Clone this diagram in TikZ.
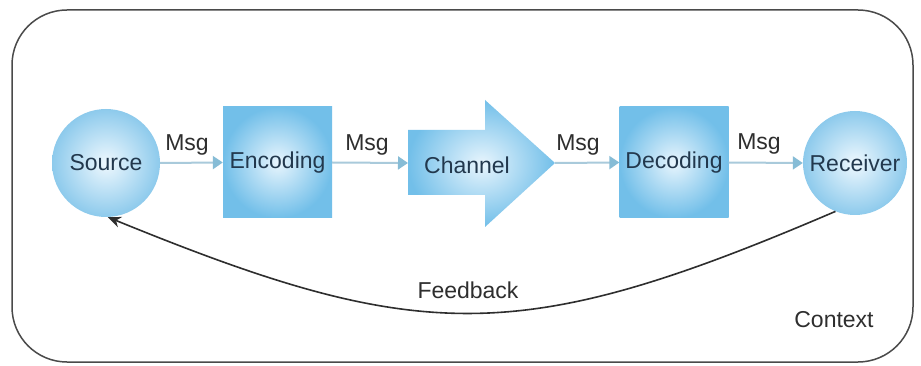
\documentclass[tikz,border=0pt]{standalone}
\usepackage{fontspec}
\setmainfont{Liberation Sans}
\usetikzlibrary{arrows.meta,shapes.geometric}
\definecolor{bluetxt}{HTML}{22384D}
\definecolor{greytxt}{HTML}{2E2E2E}
\definecolor{circin}{HTML}{EEF8FE}
\definecolor{circout}{HTML}{8DCAEC}
\definecolor{boxin}{HTML}{E8F5FD}
\definecolor{boxout}{HTML}{72BFE9}
\definecolor{msgline}{HTML}{A9CADB}
\definecolor{msgtip}{HTML}{86BCD6}
\definecolor{frame}{HTML}{4A4A4A}
\begin{document}
\begin{tikzpicture}[x=1pt,y=-1pt,
  every node/.style={font=\fontsize{23}{27}\selectfont},
  blob/.style={circle,minimum size=108pt,inner sep=0pt,inner color=circin,outer color=circout,text=bluetxt},
  sqbox/.style={rectangle,minimum width=109pt,minimum height=111pt,inner sep=0pt,inner color=boxin,outer color=boxout,text=bluetxt},
  msgarrow/.style={draw=msgline,line width=2pt,-{Triangle[length=10pt,width=13pt,color=msgtip,fill=msgtip]}},
  msglabel/.style={text=greytxt},
  plainlabel/.style={text=greytxt}]
\useasboundingbox (0,0) rectangle (921,366);
\fill[white] (0,0) rectangle (921,366);
% context frame
\draw[frame,line width=1.5pt,rounded corners=55pt] (12,10) rectangle (913,362);
% nodes
\node[blob] (source) at (106,163) {Source};
\node[sqbox] (enc) at (277.5,162.5) {Encoding};
\shade[inner color=boxin,outer color=boxout]
  (408,130) -- (485,130) -- (485,100) -- (555,163) -- (485,227) -- (485,195) -- (408,195) -- cycle;
\coordinate (chanin) at (408,163);
\coordinate (chantip) at (555,163);
\node[text=bluetxt] (chan) at (467,165) {Channel};
\node[sqbox] (dec) at (674,162.5) {Decoding};
\node[blob,minimum size=104pt] (recv) at (855,163) {Receiver};
% message arrows
\draw[msgarrow] (source.east) -- (enc.west);
\draw[msgarrow] (enc.east) -- (chanin);
\draw[msgarrow] (chantip) -- (dec.west);
\draw[msgarrow] (dec.east) -- (recv.west);
\node[msglabel] (m1) at (187,145) {Msg};
\node[msglabel] (m2) at (367,145) {Msg};
\node[msglabel] (m3) at (578,145) {Msg};
\node[msglabel] (m4) at (759,144) {Msg};
% feedback
\draw[greytxt,line width=1.6pt,-{Stealth[length=13pt,width=11pt]}]
  (recv.-112) .. controls (519,347) and (421,345) .. (source.-88);
\node[plainlabel] (fb) at (468,290) {Feedback};
\node[plainlabel] (ctx) at (834,320) {Context};
\end{tikzpicture}
\end{document}
